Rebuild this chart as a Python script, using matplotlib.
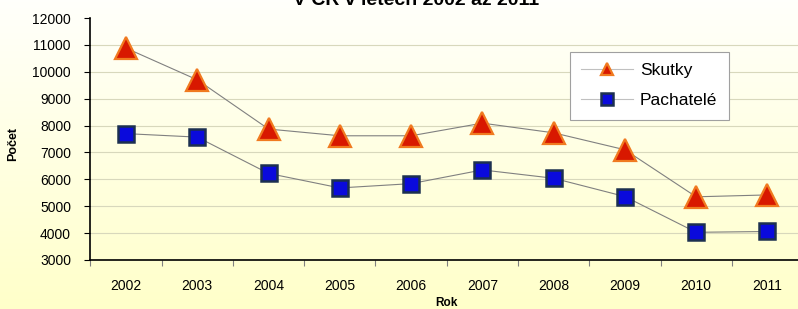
import numpy as np
import matplotlib.pyplot as plt

# data
roky = ['2002', '2003', '2004', '2005', '2006', '2007', '2008', '2009', '2010', '2011']
skutky = [10880, 9700, 7870, 7620, 7620, 8090, 7730, 7100, 5350, 5420]
pachatele = [7700, 7570, 6220, 5680, 5840, 6350, 6040, 5360, 4030, 4060]

plt.rcParams['font.family'] = ['Liberation Sans', 'DejaVu Sans']

fig = plt.figure(figsize=(7.98, 3.09), dpi=100)

# background gradient (white -> pale yellow)
bg = fig.add_axes([0, 0, 1, 1], zorder=-10)
grad = np.linspace(0, 1, 256).reshape(-1, 1)
top = np.array([1.0, 1.0, 0.985])
bot = np.array([1.0, 1.0, 0.79])
img = top + (bot - top) * grad[:, :, None]
bg.imshow(img, aspect='auto', extent=[0, 1, 0, 1], origin='upper')
bg.axis('off')

ax = fig.add_axes([0.1133, 0.1586, 0.893, 0.7831])
ax.patch.set_alpha(0)

x = np.arange(len(roky))
ax.plot(x, skutky, color='#808080', lw=0.8, marker='^', markersize=16,
        markerfacecolor='#D81800', markeredgecolor='#F07A20', markeredgewidth=1.6,
        label='Skutky', zorder=3)
ax.plot(x, pachatele, color='#808080', lw=0.8, marker='s', markersize=11,
        markerfacecolor='#0A0ADC', markeredgecolor='#1C3050', markeredgewidth=1.8,
        label='Pachatelé', zorder=3)

ax.set_xlim(-0.5, len(roky) - 0.5)
ax.set_ylim(3000, 12000)
ax.set_yticks(np.arange(3000, 12001, 1000))
ax.tick_params(axis='y', labelsize=10, length=4, pad=10, colors='#000000')

# ticks on category boundaries, labels in the middle
ax.set_xticks(np.arange(-0.5, len(roky), 1.0))
ax.set_xticklabels([])
ax.tick_params(axis='x', which='major', length=4, color='#808080')
ax.set_xticks(x, minor=True)
ax.set_xticklabels(roky, minor=True)
ax.tick_params(axis='x', which='minor', length=0, labelsize=10, pad=14)

ax.grid(axis='y', color='#D8D8BC', lw=0.8)
ax.set_axisbelow(True)
gl = ax.yaxis.get_gridlines()
gl[0].set_visible(False)
gl[-1].set_visible(False)

for s in ['top', 'right']:
    ax.spines[s].set_visible(False)
ax.spines['left'].set_linewidth(1.2)
ax.spines['bottom'].set_linewidth(1.2)

ax.set_ylabel('Počet', fontsize=9, fontweight='bold')
ax.yaxis.set_label_coords(-0.1, 0.48)
ax.set_xlabel('Rok', fontsize=8.5, fontweight='bold')
ax.xaxis.set_label_coords(0.499, -0.152)

fig.text(0.521, 0.984, 'V ČR v letech 2002 až 2011', ha='center', va='baseline',
         fontsize=14, fontweight='bold')

leg = fig.legend(loc='upper left', bbox_to_anchor=(0.714, 0.832), fontsize=12.5,
                 frameon=True, fancybox=False, edgecolor='#A0A0A0', framealpha=1,
                 handlelength=3.0, labelspacing=0.85, borderpad=0.65, handletextpad=0.4,
                 borderaxespad=0)
leg.get_frame().set_linewidth(0.8)
for h in leg.legend_handles:
    h.set_color('#C0C0C0')
    h.set_markersize(9)

fig.savefig('out.png', dpi=100)
